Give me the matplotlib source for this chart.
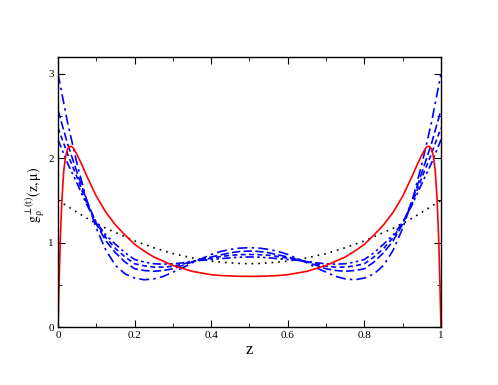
import matplotlib
matplotlib.use('Agg')
import matplotlib.pyplot as plt
from matplotlib.ticker import MultipleLocator

plt.rcParams['font.family'] = ['Liberation Serif', 'DejaVu Serif']
plt.rcParams['mathtext.fontset'] = 'stix'

# 红线（实线）
z_red = [0, 0.003, 0.006, 0.01, 0.015, 0.02, 0.025, 0.03, 0.035, 0.04, 0.05, 0.0625, 0.075, 0.0875,
         0.1, 0.125, 0.15, 0.175, 0.2, 0.225, 0.25, 0.275, 0.3, 0.325, 0.35, 0.375, 0.4, 0.425,
         0.45, 0.475, 0.5,
         0.525, 0.55, 0.575, 0.6, 0.625, 0.65, 0.675, 0.7, 0.725, 0.75, 0.775, 0.8, 0.825, 0.85,
         0.875, 0.9, 0.9125, 0.925, 0.9375, 0.95, 0.96, 0.965, 0.97, 0.975, 0.98, 0.985, 0.99,
         0.994, 0.997, 1.0]
g_red = [0, 0.55, 1.05, 1.5, 1.85, 2.03, 2.11, 2.14, 2.14, 2.12, 2.04, 1.92, 1.79, 1.67,
         1.55, 1.36, 1.21, 1.09, 0.98, 0.90, 0.83, 0.78, 0.73, 0.695, 0.66, 0.64, 0.62, 0.61,
         0.605, 0.601, 0.60,
         0.601, 0.605, 0.61, 0.62, 0.64, 0.66, 0.695, 0.73, 0.78, 0.83, 0.90, 0.98, 1.09, 1.21,
         1.36, 1.55, 1.67, 1.79, 1.92, 2.04, 2.12, 2.14, 2.14, 2.11, 2.03, 1.85, 1.5,
         1.05, 0.55, 0]

# 其他曲线的 z
z = [0, 0.025, 0.05, 0.075, 0.1, 0.125, 0.15, 0.175, 0.2, 0.225, 0.25, 0.275, 0.3, 0.325,
     0.35, 0.375, 0.4, 0.425, 0.45, 0.475, 0.5,
     0.525, 0.55, 0.575, 0.6, 0.625, 0.65, 0.675, 0.7, 0.725, 0.75, 0.775, 0.8, 0.825, 0.85,
     0.875, 0.9, 0.925, 0.95, 0.975, 1.0]
g_dot = [1.5, 1.43, 1.36, 1.29, 1.23, 1.17, 1.12, 1.07, 1.02, 0.98, 0.94, 0.905, 0.87, 0.845,
         0.82, 0.80, 0.78, 0.77, 0.76, 0.753, 0.75,
         0.753, 0.76, 0.77, 0.78, 0.80, 0.82, 0.845, 0.87, 0.905, 0.94, 0.98, 1.02, 1.07, 1.12,
         1.17, 1.23, 1.29, 1.36, 1.43, 1.5]
g_a = [3.0, 2.42, 1.93, 1.50, 1.17, 0.91, 0.73, 0.63, 0.58, 0.56, 0.57, 0.60, 0.65, 0.70,
       0.76, 0.81, 0.86, 0.895, 0.92, 0.935, 0.94,
       0.935, 0.92, 0.895, 0.86, 0.81, 0.76, 0.70, 0.65, 0.60, 0.57, 0.56, 0.58, 0.63, 0.73,
       0.91, 1.17, 1.50, 1.93, 2.42, 3.0]
g_b = [2.57, 2.17, 1.83, 1.50, 1.22, 1.02, 0.88, 0.77, 0.69, 0.67, 0.66, 0.67, 0.69, 0.73,
       0.77, 0.80, 0.83, 0.855, 0.88, 0.895, 0.90,
       0.895, 0.88, 0.855, 0.83, 0.80, 0.77, 0.73, 0.69, 0.67, 0.66, 0.67, 0.69, 0.77, 0.88,
       1.02, 1.22, 1.50, 1.83, 2.17, 2.57]
g_c = [2.36, 2.05, 1.77, 1.47, 1.23, 1.06, 0.93, 0.83, 0.75, 0.725, 0.71, 0.71, 0.72, 0.745,
       0.775, 0.795, 0.815, 0.835, 0.85, 0.857, 0.86,
       0.857, 0.85, 0.835, 0.815, 0.795, 0.775, 0.745, 0.72, 0.71, 0.71, 0.725, 0.75, 0.83, 0.93,
       1.06, 1.23, 1.47, 1.77, 2.05, 2.36]
g_d = [2.22, 1.94, 1.70, 1.45, 1.24, 1.09, 0.98, 0.88, 0.80, 0.77, 0.75, 0.745, 0.75, 0.76,
       0.78, 0.79, 0.80, 0.81, 0.82, 0.828, 0.83,
       0.828, 0.82, 0.81, 0.80, 0.79, 0.78, 0.76, 0.75, 0.745, 0.75, 0.77, 0.80, 0.88, 0.98,
       1.09, 1.24, 1.45, 1.70, 1.94, 2.22]

fig = plt.figure(figsize=(4.98, 3.85), dpi=100)
ax = fig.add_axes([0.1165, 0.1506, 0.769, 0.7014])

ax.plot(z, g_dot, color='black', linestyle=(0, (1, 3)), lw=1.2)
ax.plot(z, g_a, color='blue', linestyle=(0, (6, 2.5, 1.5, 2.5)), lw=1.2)
ax.plot(z, g_b, color='blue', linestyle=(0, (5, 2)), lw=1.2)
ax.plot(z, g_c, color='blue', linestyle=(0, (3, 2)), lw=1.2)
ax.plot(z, g_d, color='blue', linestyle=(0, (5, 2, 1.5, 2, 1.5, 2)), lw=1.2)
ax.plot(z_red, g_red, color='red', lw=1.2)

ax.set_xlim(0, 1)
ax.set_ylim(0, 3.2)
ax.xaxis.set_major_locator(MultipleLocator(0.2))
ax.xaxis.set_minor_locator(MultipleLocator(0.1))
ax.yaxis.set_major_locator(MultipleLocator(1))
ax.yaxis.set_minor_locator(MultipleLocator(0.5))
ax.set_xticks([0, 0.2, 0.4, 0.6, 0.8, 1])
ax.set_xticklabels(['0', '0.2', '0.4', '0.6', '0.8', '1'])
ax.tick_params(which='both', direction='in', top=True, right=True, labelsize=8, pad=3)
ax.tick_params(which='major', length=5)
ax.tick_params(which='minor', length=3)
for s in ax.spines.values():
    s.set_linewidth(1.0)

ax.set_xlabel('z', fontsize=12, labelpad=1)
ax.set_ylabel(r'$\mathrm{g_{\rho}^{\perp(t)}(z,\mu)}$', fontsize=10)
ax.yaxis.set_label_coords(-0.03, 0.49)

fig.savefig('out.png', dpi=100)
